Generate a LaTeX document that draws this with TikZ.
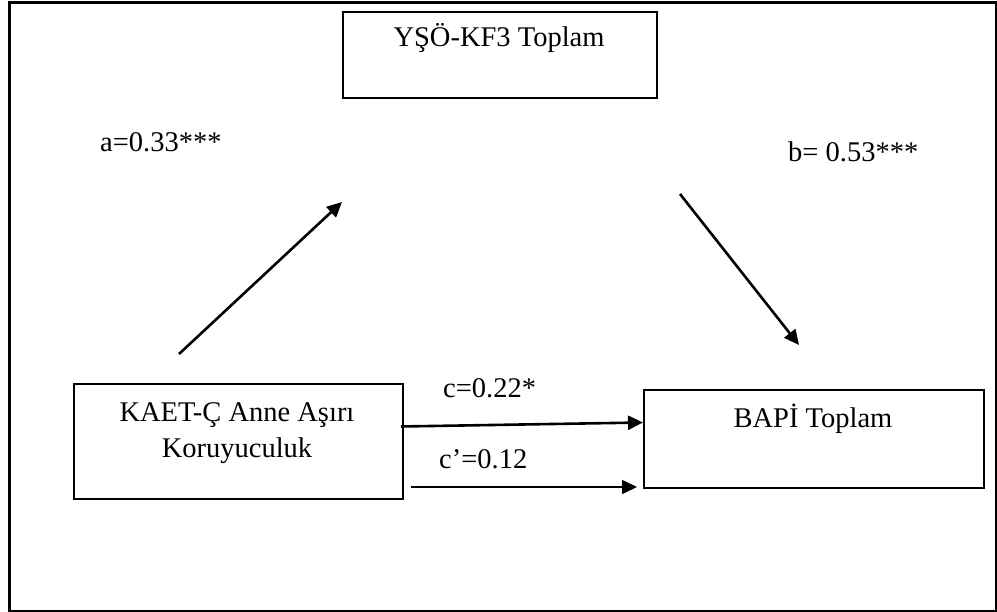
\documentclass[tikz,border=0pt]{standalone}
\usepackage{fontspec}
\setmainfont{Liberation Serif}
\usetikzlibrary{arrows.meta}
\begin{document}
\begin{tikzpicture}[x=1pt,y=-1pt,
  box/.style={draw=black,line width=2pt,inner sep=0pt,anchor=north west},
  txt/.style={inner sep=0pt,font=\fontsize{28.5}{34}\selectfont},
  arr/.style={line width=2.6pt,-{Triangle[length=15pt,width=14pt]}},
  thinarr/.style={line width=1.6pt,-{Triangle[length=15pt,width=14pt]}}]
\useasboundingbox (0,0) rectangle (997,612);
% outer frame
\node[box,line width=2.6pt,minimum width=987pt,minimum height=609pt] (frame) at (8,1.3) {};
% boxes
\node[box,minimum width=314pt,minimum height=86pt] (top) at (342,11) {};
\node[box,minimum width=329pt,minimum height=115pt] (left) at (72.5,383) {};
\node[box,minimum width=340pt,minimum height=98pt] (right) at (643,389) {};
% box texts
\node[txt,anchor=base] (toptxt) at (499,47) {YŞÖ-KF3 Toplam};
\node[txt,anchor=base] (lefttxt1) at (237,422) {KAET-Ç Anne Aşırı};
\node[txt,anchor=base] (lefttxt2) at (237,457) {Koruyuculuk};
\node[txt,anchor=base] (righttxt) at (813,428) {BAPİ Toplam};
% labels
\node[txt,anchor=base west] (la) at (100,152) {a=0.33***};
\node[txt,anchor=base west] (lb) at (788,162) {b= 0.53***};
\node[txt,anchor=base west] (lc) at (443,398) {c=0.22*};
\node[txt,anchor=base west] (lcp) at (439,468) {c’=0.12};
% arrow coordinates
\coordinate (a0) at (179,354);
\coordinate (a1) at (342,202);
\coordinate (b0) at (680,194);
\coordinate (b1) at (799,345);
\coordinate (c0) at (401,426.5);
\coordinate (c1) at (643,422.5);
\coordinate (d0) at (410.5,487);
\coordinate (dm) at (418,487);
\coordinate (d1) at (637,487);
% arrows
\draw[arr] (a0) -- (a1);
\draw[arr] (b0) -- (b1);
\draw[arr] (c0) -- (c1);
\draw[thinarr] (d0) -- (d1);
\draw[line width=2.6pt] (d0) -- (dm);
\end{tikzpicture}
\end{document}
